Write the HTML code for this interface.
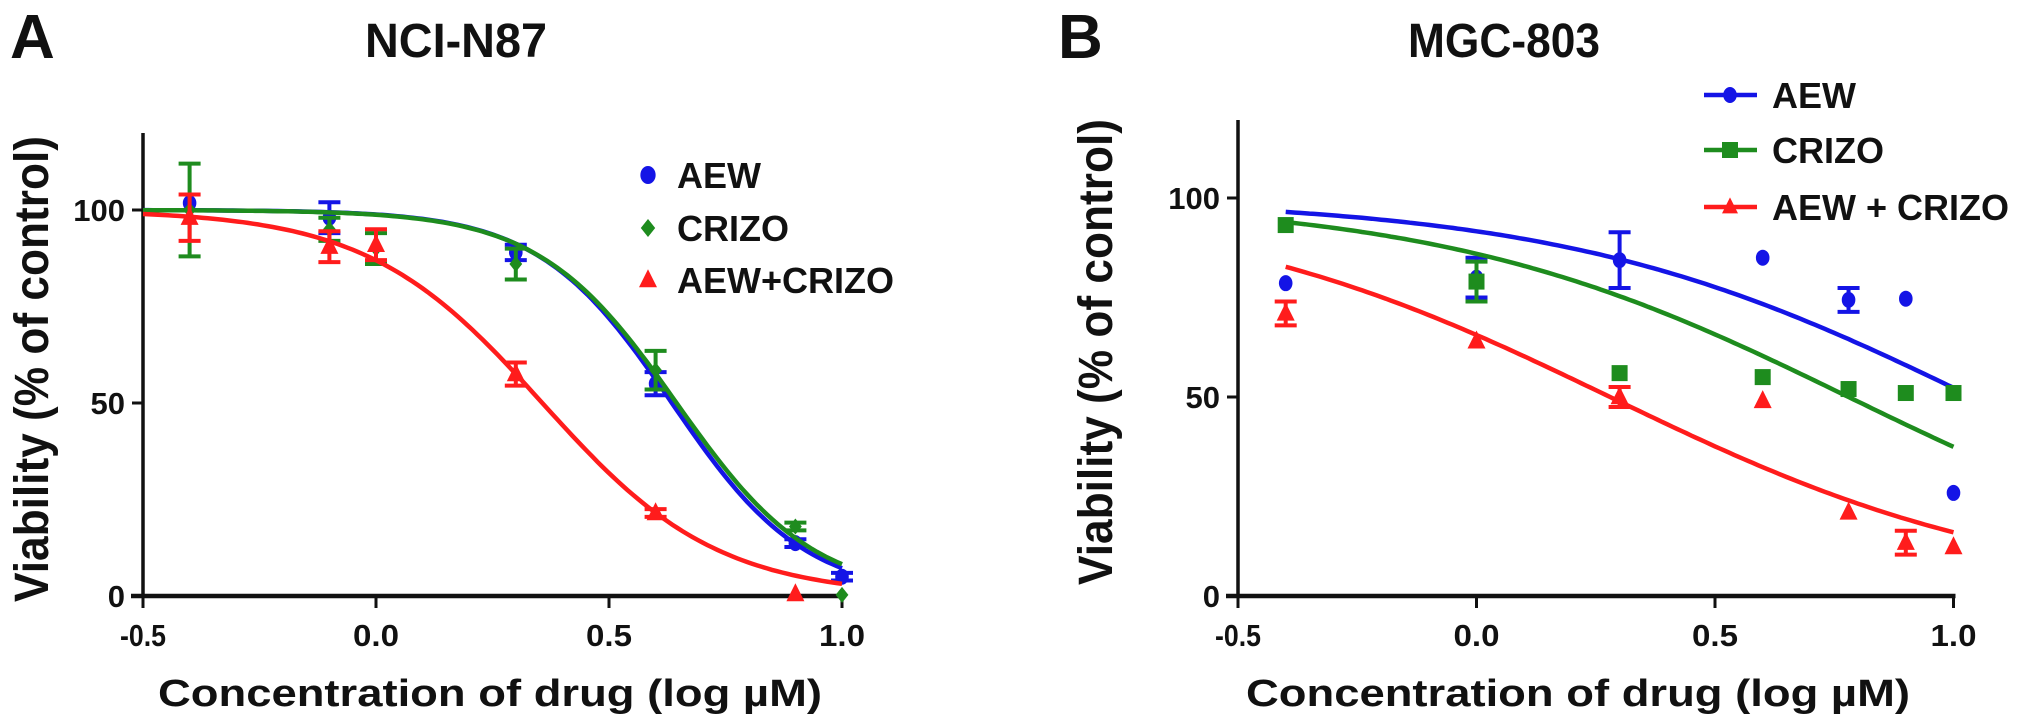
<!DOCTYPE html>
<html><head><meta charset="utf-8"><style>
html,body{margin:0;padding:0;background:#fff;}
svg{display:block;}
text{font-family:"Liberation Sans",sans-serif;font-weight:bold;fill:#111;}
</style></head><body>
<svg id="fig" width="2031" height="728" viewBox="0 0 2031 728" xmlns="http://www.w3.org/2000/svg"></svg>
<script>
// ---- Panel A data (NCI-N87) ----
const xA = [-0.4, -0.1, 0, 0.3, 0.6, 0.9, 1.0];
const aewA = [101.8, 98, null, 89, 55, 13.7, 5];
const aewErrA = [0, 4, 0, 2, 3, 1, 1];
const crizoA = [100, 95, 90, 86, 58.5, 18, 0.3];
const crizoErrA = [12, 3, 4, 4, 5, 1, 0];
const comboA = [98, 90.5, 91, 57.5, 21.5, 0.5, null];
const comboErrA = [6, 4, 4, 3, 1, 0, 0];
const fitA = {aew:[0.635, 3.04], crizo:[0.645, 2.95], combo:[0.357, 2.31]};
// ---- Panel B data (MGC-803) ----
const xB = [-0.4, 0, 0.3, 0.6, 0.78, 0.9, 1.0];
const aewB = [78.6, 80, 84.4, 85, 74.4, 74.7, 25.9];
const aewErrB = [0, 5, 7, 0, 3, 0, 0];
const crizoB = [93.2, 79, 56, 55, 52, 51, 51];
const crizoErrB = [0, 5, 0, 0, 0, 0, 0];
const comboB = [71, 64, 50, 49, 21, 13.4, 12.3];
const comboErrB = [3, 0, 2.5, 0, 0, 3, 0];
const fitB = {aew:[1.04, 1.0], crizo:[0.78, 1.01], combo:[0.28, 1.0]};
const xTicks = [-0.5, 0.0, 0.5, 1.0];
const xTickLabels = ["-0.5", "0.0", "0.5", "1.0"];
const yTicks = [0, 50, 100];

const NS = "http://www.w3.org/2000/svg";
const svg = document.getElementById('fig');
const BLUE = "#1414e6", GREEN = "#1e8c1e", RED = "#ff1c1c";

function el(tag, attrs, parent) {
  const e = document.createElementNS(NS, tag);
  for (const k in attrs) e.setAttribute(k, attrs[k]);
  (parent || svg).appendChild(e);
  return e;
}
function txt(s, attrs, parent) { const t = el('text', attrs, parent); t.textContent = s; return t; }

function marker(g, shape, cx, cy, color, size) {
  let m;
  if (shape === 'circle') m = el('ellipse', {cx: cx, cy: cy, rx: size * 0.85, ry: size, fill: color}, g);
  else if (shape === 'square') m = el('rect', {x: cx - size, y: cy - size, width: 2 * size, height: 2 * size, fill: color}, g);
  else if (shape === 'diamond') m = el('polygon', {points: `${cx},${cy - size} ${cx + size * 0.8},${cy} ${cx},${cy + size} ${cx - size * 0.8},${cy}`, fill: color}, g);
  else m = el('polygon', {points: `${cx},${cy - size * 1.2} ${cx + size},${cy + size * 0.8} ${cx - size},${cy + size * 0.8}`, fill: color}, g);
  return m;
}

function panel(cfg) {
  const g = el('g', {});
  
  
  const sx = v => cfg.x0 + (v + 0.5) * cfg.xs;
  const sy = v => cfg.y0 - v * cfg.ys;
  // axes
  const ya = el('line', {x1: cfg.x0, y1: cfg.yTop, x2: cfg.x0, y2: cfg.y0 + 2, stroke: '#111', 'stroke-width': 3.5}, g);
  
  
  const xa = el('line', {x1: cfg.x0 - 12, y1: cfg.y0, x2: sx(1.0) + 2, y2: cfg.y0, stroke: '#111', 'stroke-width': 4.5}, g);
  
  
  xTicks.forEach((t, i) => {
    el('line', {x1: sx(t), y1: cfg.y0, x2: sx(t), y2: cfg.y0 + 12, stroke: '#111', 'stroke-width': 3}, g);
    const l = txt(xTickLabels[i], {x: sx(t), y: 646, 'text-anchor': 'middle', 'font-size': 31, textLength: 46, lengthAdjust: 'spacingAndGlyphs'}, g);
    
    
  });
  yTicks.forEach(t => {
    el('line', {x1: cfg.x0 - 11, y1: sy(t), x2: cfg.x0, y2: sy(t), stroke: '#111', 'stroke-width': 3}, g);
    const l = txt(String(t), {x: cfg.x0 - 18, y: sy(t) + 11, 'text-anchor': 'end', 'font-size': 31}, g);
    
    
  });
  // titles
  const xt = txt('Concentration of drug (log µM)', {x: cfg.xTitleX, y: 706, 'text-anchor': 'middle', 'font-size': 38, textLength: 664, lengthAdjust: 'spacingAndGlyphs'}, g);
  
  
  const yt = txt('Viability (% of control)', {x: 0, y: 0, 'text-anchor': 'middle', 'font-size': 48, textLength: 466, lengthAdjust: 'spacingAndGlyphs', transform: `translate(${cfg.yTitleX},${cfg.yTitleY}) rotate(-90)`}, g);
  
  
  const pt = txt(cfg.title, {x: cfg.titleX, y: 57, 'font-size': 48, textLength: cfg.titleW, lengthAdjust: 'spacingAndGlyphs'}, g);
  
  
  const pl = txt(cfg.letter, {x: cfg.letterX, y: 58, 'font-size': 62}, g);
  
  
  // series
  cfg.series.forEach(s => {
    const sg = el('g', {}, g);
    
    
    const [ic, h] = s.fit;
    let d = '';
    for (let i = 0; i <= 140; i++) {
      const xv = cfg.xmin + (1.0 - cfg.xmin) * i / 140;
      const yv = 100 / (1 + Math.pow(10, (xv - ic) * h));
      d += (i ? 'L' : 'M') + sx(xv).toFixed(1) + ',' + sy(yv).toFixed(1);
    }
    const c = el('path', {d: d, fill: 'none', stroke: s.color, 'stroke-width': 4.5}, sg);
    
    
    cfg.xs_data.forEach((xv, i) => {
      const v = s.vals[i];
      if (v === null) return;
      const e = s.err[i];
      if (e > 0) {
        const eb = el('path', {d: `M${sx(xv)},${sy(v + e)}L${sx(xv)},${sy(v - e)}M${sx(xv) - 11},${sy(v + e)}h22M${sx(xv) - 11},${sy(v - e)}h22`, stroke: s.color, 'stroke-width': 4, fill: 'none'}, sg);
        
        
      }
      const m = marker(sg, s.shape, sx(xv), sy(v), s.color, s.size);
      
      
    });
  });
  // legend
  cfg.series.forEach((s, i) => {
    const lg = el('g', {}, g);
    
    
    const cy = cfg.legY[i];
    if (cfg.legLine) el('line', {x1: cfg.legX - 26, y1: cy, x2: cfg.legX + 27, y2: cy, stroke: s.color, 'stroke-width': 4.5}, lg);
    marker(lg, s.shape, cfg.legX, cy, s.color, cfg.legLine ? 8 : 9);
    txt(s.label, {x: cfg.legTextX, y: cy + 13, 'font-size': 36}, lg);
  });
}

panel({
  name: 'panel-a-nci-n87', title: 'NCI-N87', titleX: 365, titleW: 182, letter: 'A', letterX: 10,
  x0: 143, xs: 466, y0: 596, ys: 3.86, yTop: 133, xmin: -0.5,
  xTitleX: 490, yTitleX: 48, yTitleY: 369,
  xs_data: xA, legX: 648, legY: [175, 228, 280], legTextX: 677, legLine: false,
  series: [
    {key: 'aew', label: 'AEW', color: BLUE, shape: 'circle', size: 8, vals: aewA, err: aewErrA, fit: fitA.aew},
    {key: 'crizo', label: 'CRIZO', color: GREEN, shape: 'diamond', size: 8, vals: crizoA, err: crizoErrA, fit: fitA.crizo},
    {key: 'aew-crizo', label: 'AEW+CRIZO', color: RED, shape: 'triangle', size: 9, vals: comboA, err: comboErrA, fit: fitA.combo}
  ]
});
panel({
  name: 'panel-b-mgc-803', title: 'MGC-803', titleX: 1408, titleW: 192, letter: 'B', letterX: 1058,
  x0: 1238, xs: 477, y0: 596, ys: 3.98, yTop: 120, xmin: -0.4,
  xTitleX: 1578, yTitleX: 1112, yTitleY: 352,
  xs_data: xB, legX: 1730, legY: [95, 150, 207], legTextX: 1772, legLine: true,
  series: [
    {key: 'aew', label: 'AEW', color: BLUE, shape: 'circle', size: 8, vals: aewB, err: aewErrB, fit: fitB.aew},
    {key: 'crizo', label: 'CRIZO', color: GREEN, shape: 'square', size: 8, vals: crizoB, err: crizoErrB, fit: fitB.crizo},
    {key: 'aew-crizo', label: 'AEW + CRIZO', color: RED, shape: 'triangle', size: 9, vals: comboB, err: comboErrB, fit: fitB.combo}
  ]
});
</script>
</body></html>
